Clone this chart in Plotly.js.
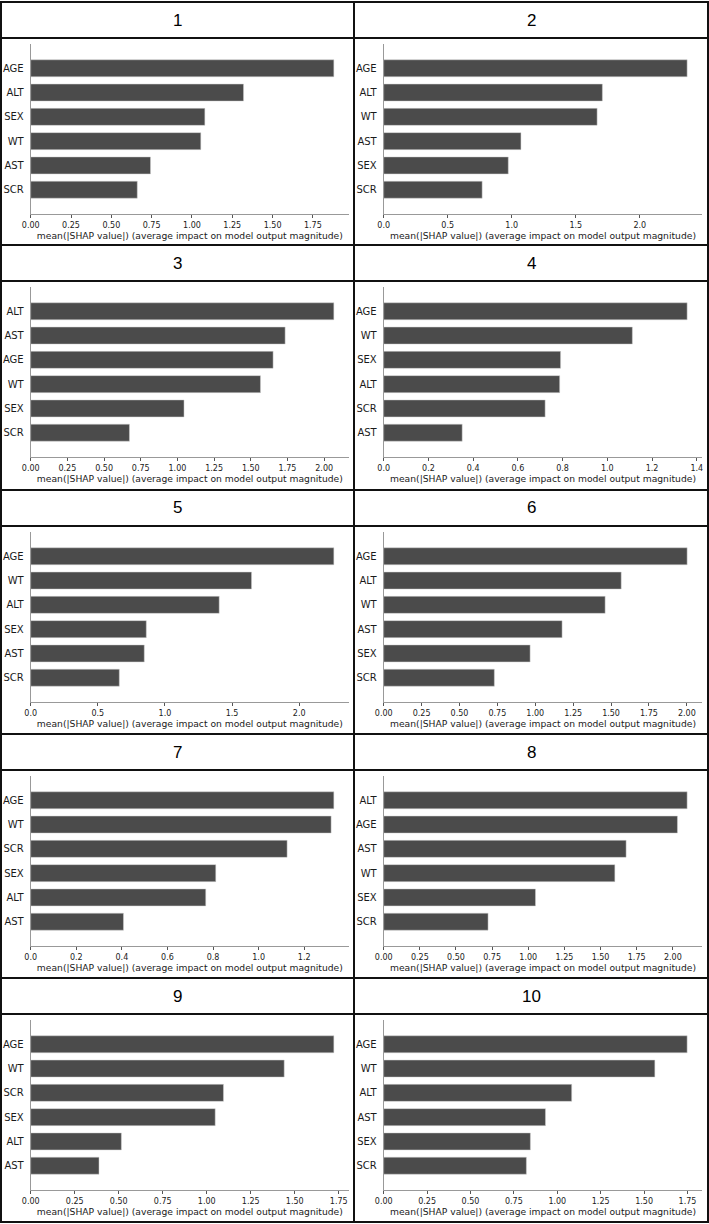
<!DOCTYPE html>
<html>
<head>
<meta charset="utf-8">
<script src="https://cdn.plot.ly/plotly-3.0.1.min.js"></script>
<style>html,body{margin:0;padding:0;background:#fff;}#chart{width:709px;height:1224px;}</style>
</head>
<body>
<div id="chart"></div>
<script>
// ---- data (top-to-bottom feature order per panel) ----
const panelTitles = ["1", "2", "3", "4", "5", "6", "7", "8", "9", "10"];

const p1Features = ["AGE", "ALT", "SEX", "WT", "AST", "SCR"];
const p1Values   = [1.88, 1.32, 1.08, 1.055, 0.743, 0.661];

const p2Features = ["AGE", "ALT", "WT", "AST", "SEX", "SCR"];
const p2Values   = [2.37, 1.708, 1.667, 1.072, 0.973, 0.769];

const p3Features = ["ALT", "AST", "AGE", "WT", "SEX", "SCR"];
const p3Values   = [2.066, 1.734, 1.652, 1.566, 1.045, 0.673];

const p4Features = ["AGE", "WT", "SEX", "ALT", "SCR", "AST"];
const p4Values   = [1.357, 1.112, 0.791, 0.787, 0.722, 0.351];

const p5Features = ["AGE", "WT", "ALT", "SEX", "AST", "SCR"];
const p5Values   = [2.258, 1.645, 1.404, 0.861, 0.846, 0.660];

const p6Features = ["AGE", "ALT", "WT", "AST", "SEX", "SCR"];
const p6Values   = [2.002, 1.567, 1.461, 1.177, 0.966, 0.730];

const p7Features = ["AGE", "WT", "SCR", "SEX", "ALT", "AST"];
const p7Values   = [1.33, 1.318, 1.125, 0.812, 0.768, 0.407];

const p8Features = ["ALT", "AGE", "AST", "WT", "SEX", "SCR"];
const p8Values   = [2.099, 2.032, 1.677, 1.599, 1.050, 0.722];

const p9Features = ["AGE", "WT", "SCR", "SEX", "ALT", "AST"];
const p9Values   = [1.722, 1.440, 1.095, 1.048, 0.515, 0.388];

const p10Features = ["AGE", "WT", "ALT", "AST", "SEX", "SCR"];
const p10Values   = [1.748, 1.562, 1.083, 0.932, 0.845, 0.822];

const xTickSteps = [0.25, 0.5, 0.25, 0.2, 0.5, 0.25, 0.2, 0.25, 0.25, 0.25];

const xTitleText = "mean(|SHAP value|) (average impact on model output magnitude)";

const allFeatures = [p1Features, p2Features, p3Features, p4Features, p5Features,
                     p6Features, p7Features, p8Features, p9Features, p10Features];
const allValues = [p1Values, p2Values, p3Values, p4Values, p5Values,
                   p6Values, p7Values, p8Values, p9Values, p10Values];

// ---- layout geometry (pixels) ----
const W = 709, H = 1224;
const rowTops = [2, 245, 490, 734, 978];
const bottomEdge = 1222;
const leftEdge = 1, rightEdge = 708, midX = 354;
const colPlotX = [[30.7, 349], [383.7, 702.3]];
const colCenter = [(leftEdge + midX) / 2, (midX + rightEdge) / 2];
const px = v => v / W;
const py = v => (H - v) / H;

const data = [];
const layout = {
  width: W, height: H,
  margin: {l: 0, r: 0, t: 0, b: 0},
  paper_bgcolor: "#ffffff",
  plot_bgcolor: "#ffffff",
  showlegend: false,
  font: {family: "DejaVu Sans", color: "#1a1a1a"},
  shapes: [],
  annotations: []
};

for (let i = 0; i < 10; i++) {
  const row = Math.floor(i / 2), col = i % 2;
  const T = rowTops[row];
  const n = i + 1;
  const xa = "x" + (n === 1 ? "" : n), ya = "y" + (n === 1 ? "" : n);
  const xk = "xaxis" + (n === 1 ? "" : n), yk = "yaxis" + (n === 1 ? "" : n);
  const vals = allValues[i];
  const maxV = Math.max(...vals);
  const step = xTickSteps[i];

  data.push({
    type: "bar",
    orientation: "h",
    x: vals,
    y: allFeatures[i],
    xaxis: xa, yaxis: ya,
    width: 0.7,
    marker: {color: "#4b4b4b", line: {color: "#d0d0d0", width: 0.5}},
    hoverinfo: "x+y"
  });

  layout[xk] = {
    domain: [px(colPlotX[col][0]), px(colPlotX[col][1])],
    anchor: ya,
    range: [0, maxV * 1.05],
    tick0: 0, dtick: step,
    tickformat: step === 0.25 ? ".2f" : ".1f",
    ticks: "outside", ticklen: 3, tickwidth: 1, tickcolor: "#555",
    showline: true, linecolor: "#999", linewidth: 1,
    showgrid: false, zeroline: false,
    tickfont: {family: "DejaVu Sans", size: 8, color: "#1a1a1a"},
    title: {text: xTitleText, font: {family: "DejaVu Sans", size: 9.2, color: "#1a1a1a"}, standoff: 3},
    automargin: false,
    fixedrange: true
  };
  layout[yk] = {
    domain: [py(T + 212), py(T + 42)],
    anchor: xa,
    type: "category",
    range: [5 + 1, -1],
    ticks: "",
    ticklabelstandoff: 4,
    showline: true, linecolor: "#999", linewidth: 1,
    showgrid: false, zeroline: false,
    tickfont: {family: "DejaVu Sans", size: 10, color: "#1a1a1a"},
    automargin: false,
    fixedrange: true
  };

  layout.annotations.push({
    xref: "paper", yref: "paper",
    x: px(colCenter[col]), y: py(T + 18),
    xanchor: "center", yanchor: "middle",
    text: panelTitles[i], showarrow: false,
    font: {family: "Liberation Sans", size: 17, color: "#000"}
  });
}

// ---- table grid lines ----
const lineStyle = {color: "#111", width: 2};
layout.shapes.push({type: "rect", xref: "paper", yref: "paper",
  x0: px(leftEdge), x1: px(rightEdge), y0: py(bottomEdge), y1: py(rowTops[0]), line: lineStyle});
layout.shapes.push({type: "line", xref: "paper", yref: "paper",
  x0: px(midX), x1: px(midX), y0: py(bottomEdge), y1: py(rowTops[0]), line: lineStyle});
rowTops.forEach((T, r) => {
  if (r > 0) layout.shapes.push({type: "line", xref: "paper", yref: "paper",
    x0: px(leftEdge), x1: px(rightEdge), y0: py(T), y1: py(T), line: lineStyle});
  layout.shapes.push({type: "line", xref: "paper", yref: "paper",
    x0: px(leftEdge), x1: px(rightEdge), y0: py(T + 36), y1: py(T + 36), line: lineStyle});
});

Plotly.newPlot("chart", data, layout, {displayModeBar: false, staticPlot: true});
</script>
</body>
</html>
